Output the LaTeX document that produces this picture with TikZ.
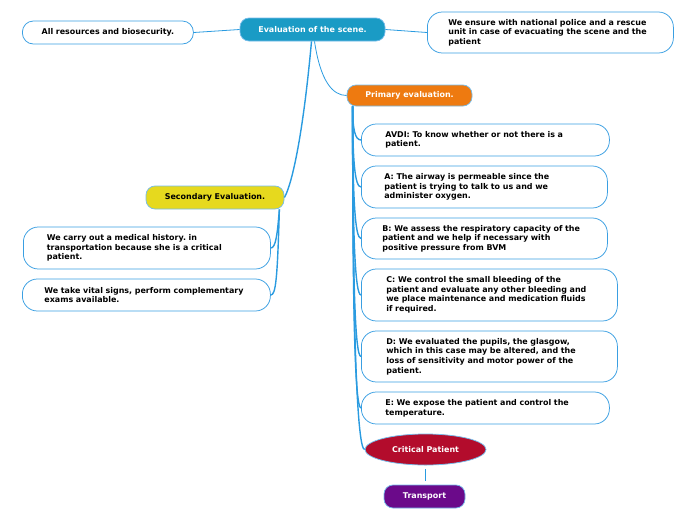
\documentclass[tikz,border=0pt]{standalone}
\usepackage{fontspec}
\setmainfont{DejaVu Sans}
\usetikzlibrary{shapes.geometric}
\frenchspacing

\definecolor{lineblue}{HTML}{2A9BE0}
\definecolor{boxblue}{HTML}{3A9FE2}
\definecolor{sceneblue}{HTML}{1A9BC5}
\definecolor{primorange}{HTML}{EE7A10}
\definecolor{secyellow}{HTML}{E6D91E}
\definecolor{critred}{HTML}{B30C2C}
\definecolor{transpurple}{HTML}{6B0A8A}

\tikzset{every picture/.style={line width=0.75pt}}
\tikzset{
  txt/.style={font=\fontsize{7.95}{9.6}\selectfont\bfseries},
  pill/.style={txt, draw=boxblue, fill=white, rounded corners=15pt, text width=200pt, align=left, inner xsep=23pt, anchor=west},
  topic/.style={txt, draw=boxblue!70, rounded corners=9pt, text=white, minimum height=23pt, inner sep=0pt, align=center},
  thinline/.style={draw=lineblue, line width=0.8pt},
  thickline/.style={draw=lineblue, line width=1.4pt},
}

\begin{document}
\begin{tikzpicture}[x=1pt,y=1pt,yscale=-1]
\useasboundingbox (0,0) rectangle (696,520);

%Main topic
\node [topic, fill=sceneblue, minimum width=145pt] (scene) at (312.5,29.5) {Evaluation of the scene.};
%Side boxes of the main topic
\node [pill, rounded corners=11pt, text width=151pt, inner xsep=10pt, align=center, minimum height=23pt] (resources) at (22,32.5) {All resources and biosecurity.};
\node [pill, text width=204pt, inner xsep=21pt, minimum height=41pt] (police) at (427,32.5) {We ensure with national police and a rescue\\unit in case of evacuating the scene and the\\patient};

%Primary evaluation
\node [topic, fill=primorange, minimum width=125pt, minimum height=21pt] (primary) at (409.5,95.5) {Primary evaluation.};
\node [pill, inner xsep=24pt, minimum height=32pt] (avdi) at (361,140) {AVDI: To know whether or not there is a\\patient.};
\node [pill, minimum height=42pt] (airway) at (361,187) {A: The airway is permeable since the\\patient is trying to talk to us and we\\administer oxygen.};
\node [pill, text width=204pt, inner xsep=21pt, minimum height=41pt] (breath) at (361,238.5) {B: We assess the respiratory capacity of the\\patient and we help if necessary with\\positive pressure from BVM};
\node [pill, text width=206pt, inner xsep=25pt, minimum height=52pt] (circ) at (361,295) {C: We control the small bleeding of the\\patient and evaluate any other bleeding and\\we place maintenance and medication fluids\\if required.};
\node [pill, text width=206pt, inner xsep=25pt, minimum height=51pt] (disab) at (361,356.5) {D: We evaluated the pupils, the glasgow,\\which in this case may be altered, and the\\loss of sensitivity and motor power of the\\patient.};
\node [pill, inner xsep=24pt, minimum height=32pt] (expo) at (361,408) {E: We expose the patient and control the\\temperature.};

%Critical patient and transport
\node [txt, ellipse, draw=boxblue!70, fill=critred, text=white, minimum width=121pt, minimum height=31pt, inner sep=0pt] (critical) at (425.5,449.5) {Critical Patient};
\node [topic, fill=transpurple, minimum width=81pt] (transport) at (424.5,496.5) {Transport};

%Secondary evaluation
\node [topic, fill=secyellow, text=black, minimum width=138pt] (secondary) at (215,197.5) {Secondary Evaluation.};
\node [pill, inner xsep=23.5pt, minimum height=42pt] (history) at (23,248) {We carry out a medical history. in\\transportation because she is a critical\\patient.};
\node [pill, text width=204pt, inner xsep=22pt, minimum height=32pt] (vitals) at (22,295) {We take vital signs, perform complementary\\exams available.};

%Lines from the main topic
\draw [thinline] (scene.west) -- (resources.east);
\draw [thinline] (scene.east) -- (police.west);
\draw [thinline] ([xshift=2pt]scene.south) .. controls +(6,40) and +(-14,0) .. (primary.west);
\draw [thickline] ([xshift=-1pt]scene.south) .. controls +(-10,110) and +(5,-8) .. (secondary.east);

%Lines from primary evaluation
\draw [thickline] ([xshift=6pt]primary.south west) .. controls +(0,23) and +(-6,0) .. (avdi.west);
\draw [thickline] ([xshift=6pt]primary.south west) .. controls +(0,56) and +(-6,0) .. (airway.west);
\draw [thickline] ([xshift=6pt]primary.south west) .. controls +(0,92) and +(-6,0) .. (breath.west);
\draw [thickline] ([xshift=6pt]primary.south west) .. controls +(0,130) and +(-6,0) .. (circ.west);
\draw [thickline] ([xshift=6pt]primary.south west) .. controls +(0,175) and +(-6,0) .. (disab.west);
\draw [thickline] ([xshift=6pt]primary.south west) .. controls +(0,210) and +(-6,0) .. (expo.west);
\draw [thickline] ([xshift=6pt]primary.south west) .. controls +(0,240) and +(-7,0) .. (critical.west);

%Critical patient to transport
\draw [thinline, shorten <=4pt, shorten >=4pt] (critical.south) -- (critical.south |- transport.north);

%Lines from secondary evaluation
\draw [thickline] ([xshift=-5pt]secondary.south east) .. controls +(-2,25) and +(5,0) .. (history.east);
\draw [thickline] ([xshift=-5pt]secondary.south east) .. controls +(-2,70) and +(5,0) .. (vitals.east);

\end{tikzpicture}
\end{document}
